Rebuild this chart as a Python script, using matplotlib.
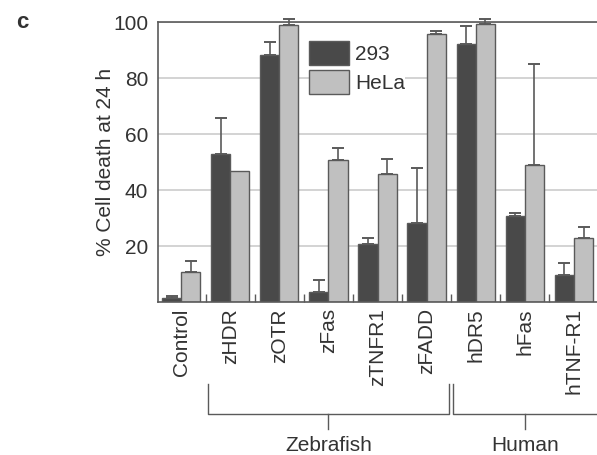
import matplotlib.pyplot as plt
import numpy as np

plt.rcParams['font.family'] = ['Liberation Sans', 'DejaVu Sans']

# % cell death at 24 h for each construct, in 293 and HeLa cells
constructs = ['Control', 'zHDR', 'zOTR', 'zFas', 'zTNFR1', 'zFADD', 'hDR5', 'hFas', 'hTNF-R1']
death_293 = [1.5, 52.9, 88.1, 3.7, 20.7, 28.1, 92.1, 30.8, 9.8]
err_293 = [0.6, 12.8, 4.6, 4.2, 2.2, 19.6, 6.6, 1.1, 4.1]
death_hela = [10.6, 46.8, 98.9, 50.8, 45.8, 95.7, 99.4, 49.0, 23.0]
err_hela = [3.9, 0.0, 2.3, 4.1, 5.2, 1.1, 1.8, 35.9, 3.9]

# species brackets: (label, first index, last index)
groups = [('Zebrafish', 1, 5), ('Human', 6, 8)]

dark = '#494949'
light = '#c0c0c0'
edge = '#5a5a5a'
txt = '#333333'

fig = plt.figure(figsize=(5.97, 4.55), dpi=100)
ax = fig.add_axes([158 / 597, 153 / 455, 442 / 597, 280 / 455])

x = np.arange(len(constructs))
w = 0.39
ax.bar(x - w / 2, death_293, w, color=dark, edgecolor=edge, linewidth=1, zorder=2, label='293')
ax.bar(x + w / 2, death_hela, w, color=light, edgecolor=edge, linewidth=1, zorder=2, label='HeLa')

# upper error bars only
for xs, ys, es in [(x - w / 2, death_293, err_293), (x + w / 2, death_hela, err_hela)]:
    ys = np.array(ys)
    es = np.array(es)
    m = es > 0
    ax.errorbar(xs[m], ys[m], yerr=[np.zeros(m.sum()), es[m]], fmt='none',
                ecolor='#5a5a5a', elinewidth=1.2, capsize=4, capthick=1.4,
                zorder=3, clip_on=False)

ax.set_xlim(-0.47, 8.53)
ax.set_ylim(0, 100)
ax.set_yticks([20, 40, 60, 80, 100])
ax.yaxis.grid(True, color='#cccccc', linewidth=1.2, zorder=0)
ax.set_axisbelow(True)

ax.set_xticks(x)
ax.set_xticklabels(constructs, rotation=90, va='top', ha='center')
ax.set_xticks(x[:-1] + 0.5, minor=True)
ax.tick_params(axis='x', which='major', length=0, pad=4.5, labelsize=15, labelcolor=txt)
ax.tick_params(axis='x', which='minor', direction='in', length=6, width=1, color='#5a5a5a')
ax.tick_params(axis='y', length=0, pad=7, labelsize=15, labelcolor=txt)

for s in ['left', 'bottom', 'top']:
    ax.spines[s].set_color('#5a5a5a')
    ax.spines[s].set_linewidth(1.2)
ax.spines['right'].set_visible(False)

ax.set_ylabel('% Cell death at 24 h', fontsize=15, color=txt, labelpad=-1)

# brackets under the construct names
for name, i0, i1 in groups:
    left = i0 - 0.46
    right = i1 + 0.46 if i1 < len(constructs) - 1 else i1 + 0.6
    mid = (i0 - 0.46 + i1 + 0.46) / 2
    ax.plot([left, left, right, right], [-29.3, -40, -40, -29.3], color='#5a5a5a',
            linewidth=1, clip_on=False)
    ax.plot([mid, mid], [-40, -45.4], color='#5a5a5a', linewidth=1, clip_on=False)
    ax.text(mid, -51.2, name, ha='center', va='center', fontsize=15, color=txt)

leg = ax.legend(loc='upper left', bbox_to_anchor=(309 / 597, 1 - 41 / 455),
                bbox_transform=fig.transFigure, fontsize=15, frameon=True,
                fancybox=False, borderpad=0, borderaxespad=0, handlelength=1.9,
                handleheight=1.4, handletextpad=0.3, labelspacing=0.25)
leg.get_frame().set_facecolor('white')
leg.get_frame().set_edgecolor('none')
leg.get_frame().set_alpha(1)
for t in leg.get_texts():
    t.set_color(txt)

fig.text(16 / 597, 1 - 28.5 / 455, 'c', fontsize=16, fontweight='bold', color='#333333',
         va='baseline', ha='left')

fig.savefig('out.png', dpi=100)
